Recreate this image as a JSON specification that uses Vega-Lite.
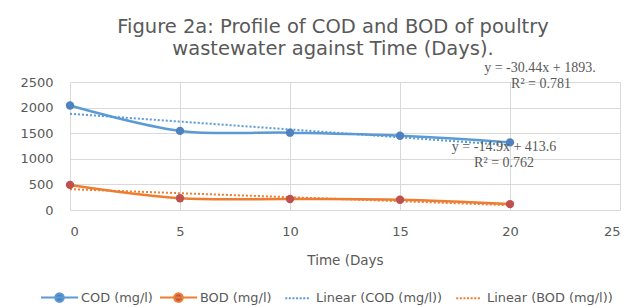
{
  "$schema": "https://vega.github.io/schema/vega-lite/v6.json",
  "width": 550,
  "height": 128,
  "autosize": {"type": "none"},
  "padding": {"left": 70, "top": 82, "right": 6, "bottom": 97},
  "background": "white",
  "config": {
    "view": {"stroke": null},
    "font": "DejaVu Sans",
    "axis": {"labelFont": "DejaVu Sans", "labelColor": "#595959", "labelFontSize": 13, "titleFont": "DejaVu Sans", "titleColor": "#595959", "titleFontWeight": "normal", "gridColor": "#d9d9d9", "gridWidth": 1, "domain": false, "ticks": false, "labelOverlap": false}
  },
  "title": {
    "text": ["Figure 2a: Profile of COD and BOD of poultry", "wastewater against Time (Days)."],
    "font": "DejaVu Sans",
    "fontSize": 19.5,
    "fontWeight": "normal",
    "color": "#595959",
    "lineHeight": 22,
    "anchor": "middle",
    "dx": -12,
    "offset": 1
  },
  "data": {
    "values": [
      {"series": "COD (mg/l)", "day": 0, "value": 2040},
      {"series": "COD (mg/l)", "day": 5, "value": 1545},
      {"series": "COD (mg/l)", "day": 10, "value": 1510},
      {"series": "COD (mg/l)", "day": 15, "value": 1450},
      {"series": "COD (mg/l)", "day": 20, "value": 1320},
      {"series": "BOD (mg/l)", "day": 0, "value": 490},
      {"series": "BOD (mg/l)", "day": 5, "value": 230},
      {"series": "BOD (mg/l)", "day": 10, "value": 215},
      {"series": "BOD (mg/l)", "day": 15, "value": 200},
      {"series": "BOD (mg/l)", "day": 20, "value": 115}
    ]
  },
  "encoding": {
    "x": {"field": "day", "type": "quantitative", "scale": {"domain": [0, 25], "nice": false},
      "axis": {"values": [0, 5, 10, 15, 20, 25], "title": "Time (Days", "titleFontSize": 13.5, "labelPadding": 15, "titlePadding": 15, "grid": true, "labelOverlap": false}},
    "y": {"field": "value", "type": "quantitative", "scale": {"domain": [0, 2500], "nice": false},
      "axis": {"values": [0, 500, 1000, 1500, 2000, 2500], "format": "d", "title": null, "labelPadding": 17, "grid": true, "labelOverlap": false}}
  },
  "layer": [
    {
      "mark": {"type": "line", "strokeWidth": 2.5, "interpolate": "catmull-rom"},
      "encoding": {
        "color": {
          "field": "series", "type": "nominal",
          "scale": {"domain": ["COD (mg/l)", "BOD (mg/l)", "Linear (COD (mg/l))", "Linear (BOD (mg/l))"], "range": ["#5B9BD5", "#ED7D31", "#5B9BD5", "#ED7D31"]},
          "legend": {
            "title": null,
            "orient": "none",
            "direction": "horizontal",
            "legendX": -30,
            "legendY": 196,
            "labelFont": "DejaVu Sans",
            "labelFontSize": 12.9,
            "labelColor": "#595959",
            "symbolSize": 1369,
            "labelOffset": 2,
            "columnPadding": 3,
            "encode": {
              "symbols": {
                "update": {
                  "shape": {"signal": "(datum.value === 'COD (mg/l)' || datum.value === 'BOD (mg/l)') ? 'M-1,0H1M-0.23,0A0.23,0.23 0 1,1 0.23,0A0.23,0.23 0 1,1 -0.23,0Z' : 'M-0.5,0H0.8'"},
                  "fill": {"signal": "datum.value === 'COD (mg/l)' ? '#4F81BD' : datum.value === 'BOD (mg/l)' ? '#C0504D' : 'transparent'"},
                  "stroke": {"signal": "(datum.value === 'COD (mg/l)' || datum.value === 'Linear (COD (mg/l))') ? '#5B9BD5' : '#ED7D31'"},
                  "strokeWidth": {"value": 2},
                  "strokeDash": {"signal": "(datum.value === 'Linear (COD (mg/l))' || datum.value === 'Linear (BOD (mg/l))') ? [2, 1.6] : [1, 0]"},
                  "opacity": {"value": 1}
                }
              }
            }
          }
        }
      }
    },
    {
      "transform": [{"regression": "value", "on": "day", "groupby": ["series"], "extent": [0, 20]}],
      "mark": {"type": "line", "strokeWidth": 2, "strokeDash": [2, 2]},
      "encoding": {
        "color": {"field": "series", "type": "nominal"}
      }
    },
    {
      "mark": {"type": "point", "filled": true, "size": 70, "opacity": 1},
      "encoding": {
        "fill": {"field": "series", "type": "nominal", "scale": {"domain": ["COD (mg/l)", "BOD (mg/l)"], "range": ["#4F81BD", "#C0504D"]}, "legend": null}
      }
    },
    {
      "data": {"values": [{"day": 21.36, "value": 2775}]},
      "mark": {"type": "text", "font": "Liberation Serif", "fontSize": 14, "fontWeight": "normal", "color": "#595959", "text": "y = -30.44x + 1893."}
    },
    {
      "data": {"values": [{"day": 21.41, "value": 2465}]},
      "mark": {"type": "text", "font": "Liberation Serif", "fontSize": 14, "fontWeight": "normal", "color": "#595959", "text": "R² = 0.781"}
    },
    {
      "data": {"values": [{"day": 19.73, "value": 1235}]},
      "mark": {"type": "text", "font": "Liberation Serif", "fontSize": 14, "fontWeight": "normal", "color": "#595959", "text": "y = -14.9x + 413.6"}
    },
    {
      "data": {"values": [{"day": 19.73, "value": 915}]},
      "mark": {"type": "text", "font": "Liberation Serif", "fontSize": 14, "fontWeight": "normal", "color": "#595959", "text": "R² = 0.762"}
    }
  ]
}
